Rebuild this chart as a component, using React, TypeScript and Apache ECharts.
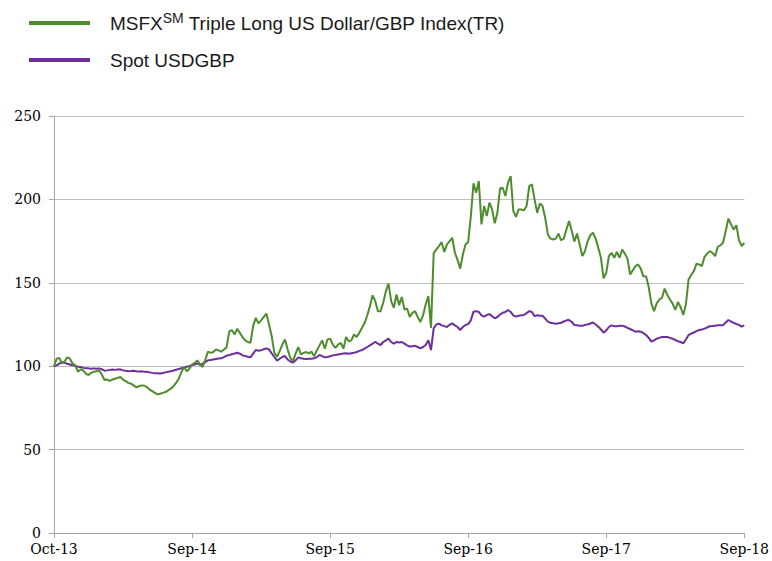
import React, { useEffect, useRef } from "react";
import * as echarts from "echarts";

const tickLabels = ["Oct-13", "Sep-14", "Sep-15", "Sep-16", "Sep-17", "Sep-18"];
const weeksPerTick = 52;

const seriesNames = ["MSFX Triple Long US Dollar/GBP Index(TR)", "Spot USDGBP"];

const tripleLong = [
  100, 104.5, 105, 101.7, 103, 105.3, 104.5, 101.5, 100.5, 96.7,
  98, 97.5, 95.5, 94.7, 96, 96.7, 97, 97.5, 95, 91.7,
  92, 91.2, 92, 92.5, 93, 93.5, 92, 91, 90, 89.5,
  88.5, 87.3, 88, 88.5, 88.3, 87.5, 86, 85, 84, 83.1,
  83.5, 84, 84.5, 85.5, 86.5, 88, 90, 92.5, 96.5, 99.5,
  97, 98.5, 101, 102, 103.5, 101, 99.5, 104, 108.7, 108,
  108.5, 110, 109.5, 108.7, 110, 111.3, 120.7, 121.7, 119, 122.5,
  120, 117.5, 115.5, 114.5, 114, 124, 129, 125.7, 127.5, 129.5,
  131.5, 125, 118, 108, 105.7, 109, 113, 116, 110, 105,
  103, 107.5, 111.5, 107, 108, 108.5, 107.7, 108.7, 106, 109.5,
  112.5, 115.5, 110.5, 116, 116.5, 113, 111, 113, 114, 110.5,
  117.5, 115, 115.5, 119, 117.5, 120, 123, 126, 130.5, 136,
  142.5, 139, 133, 133, 138, 145, 149.5, 139, 135, 143,
  136.5, 141.5, 134, 134.5, 129.5, 132, 133, 129.5, 126.5, 130.5,
  137, 142, 123, 167.7, 170, 172, 174.5, 168.5, 173, 175,
  177, 168, 163.7, 158.5, 167, 173, 174.5, 190, 209.7, 204,
  211, 185, 196, 190, 198, 194, 185.7, 192, 206.5, 207,
  202, 210, 214, 193, 189.5, 194, 194, 193.5, 196, 208,
  209, 200, 192, 197.5, 196, 189, 179, 176.5, 176, 176.5,
  179.5, 175.5, 176.5, 182, 187, 181, 174.7, 179.5, 173, 166,
  169, 175, 178.5, 180, 176.5, 171, 165, 152.7, 156, 166,
  168, 165, 168.5, 165, 170, 167.5, 164.5, 155, 157.5, 160,
  161, 158.5, 153.7, 154, 147.5, 137.5, 133, 137.7, 140, 141,
  146.5, 142.7, 140, 137.5, 133.7, 138.5, 135.5, 130.7, 137, 152,
  154.7, 157, 161.5, 161, 160, 165.5, 167.5, 169, 168, 166,
  171.5, 172.5, 174, 181, 188.5, 185, 182, 184.5, 175.5, 172,
  174,
];

const spotUsdGbp = [
  100, 100.5, 101.5, 102.5, 102, 101.5, 101, 100.5, 100.2, 99.7,
  99.5, 99, 98.8, 98.7, 98.5, 98.7, 98.5, 98.7, 98.2, 97.3,
  97.5, 97.8, 98, 97.8, 98.1, 98, 97.5, 97.3, 97, 97.1,
  97.3, 97, 96.8, 96.9, 96.7, 96.7, 96.3, 96, 95.8, 95.7,
  95.6, 95.9, 96.3, 96.7, 97, 97.4, 97.9, 98.3, 98.8, 99.3,
  99.7, 100, 100.7, 101, 101.7, 100.8, 101.5, 102.5, 103.5, 103.7,
  104, 104.3, 104.6, 104.7, 105.5, 106.3, 106.7, 107.2, 107.6, 108.1,
  107.5, 106.5, 106.1, 105.7, 105.3, 107.5, 109.7, 109.3, 109.5, 110.2,
  110.7, 110, 107.7, 105.5, 103.3, 104.5, 105.5, 106.1, 104, 102.8,
  102.1, 103.5, 105.3, 104.8, 104.5, 104.3, 104.4, 104.5, 104.7, 105.5,
  106.7, 106, 105.3, 105.5, 106, 106.5, 106.7, 107, 107.3, 107.6,
  107.7, 107.5, 107.8, 108, 108.5, 109.2, 109.7, 110.5, 111.5, 112.5,
  113.5, 114.7, 113.5, 112.7, 114.5, 115.5, 116.5, 114.5, 113.5, 114.5,
  114.2, 114.5, 113.5, 112.5, 111.8, 112, 112.2, 111.5, 110.7, 111.5,
  112.7, 115.5, 109.7, 122.7, 125, 125.5, 124.5, 124, 123.5, 124.8,
  125.7, 124.5, 123.5, 121.7, 123.5, 124.7, 125.2, 127.5, 132.7, 133,
  132.5, 130.5, 129.7, 130.7, 131.2, 130, 128.7, 129.5, 131, 132,
  132.5, 133.7, 132.5, 130.5, 129.7, 130.2, 130.5, 130.7, 131.8, 133,
  132.5, 130, 130.5, 130.3, 130.3, 128.5, 126.7, 126, 125.7, 125.5,
  125.7, 126, 126.8, 127.5, 127.7, 126.5, 124.7, 124.5, 124.3, 124.2,
  124.8, 125, 125.6, 126.2, 125, 123.7, 122, 120.1, 121.5, 123.5,
  124.5, 124, 124, 124.3, 124.3, 123.8, 123, 122.3, 121.5, 120.7,
  121, 120.7, 119.8, 118.7, 117, 114.7, 115.5, 116.5, 117, 117.5,
  117.5, 117.5, 117, 116.5, 115.7, 115, 114.5, 113.7, 116, 118.7,
  119.5, 120.2, 121, 121.7, 122, 122.5, 123.2, 124, 124.1, 124.3,
  124.5, 124.5, 124.6, 126.2, 127.7, 126.8, 126, 125.3, 124.8, 123.7,
  124.5,
];

const categories = tripleLong.map((_, i) =>
  i % weeksPerTick === 0 ? tickLabels[i / weeksPerTick] : String(i)
);

const GREEN = "#4e8d2b";
const PURPLE = "#6e2f9c";
const GRID_GRAY = "#bfbfbf";
const AXIS_GRAY = "#a6a6a6";
const SERIF = "DejaVu Serif, Liberation Serif, serif";
const SANS = "Liberation Sans, Arial, sans-serif";

export default function App() {
  const ref = useRef<HTMLDivElement>(null);

  useEffect(() => {
    if (!ref.current) return;
    const chart = echarts.init(ref.current, undefined, { renderer: "svg" });
    chart.setOption({
      animation: false,
      backgroundColor: "#ffffff",
      legend: {
        orient: "vertical",
        left: 24,
        top: 6,
        itemWidth: 61,
        itemHeight: 4,
        itemGap: 18,
        icon: "rect",
        data: seriesNames,
        formatter: (name: string) =>
          name === seriesNames[0]
            ? "{t|MSFX}{s|SM}{t| Triple Long US Dollar/GBP Index(TR)}"
            : "{t|" + name + "}",
        textStyle: {
          padding: [0, 0, 0, 15],
          rich: {
            t: {
              fontFamily: SANS,
              fontSize: 19,
              color: "#1a1a1a",
              lineHeight: 22,
            },
            s: {
              fontFamily: SANS,
              fontSize: 14,
              color: "#1a1a1a",
              verticalAlign: "top",
              padding: [0, 0, 10, 0],
            },
          },
        },
      },
      grid: { left: 54, right: 27, top: 116, bottom: 28, containLabel: false },
      xAxis: {
        type: "category",
        boundaryGap: false,
        data: categories,
        axisLine: { lineStyle: { color: AXIS_GRAY, width: 1 } },
        axisTick: {
          interval: weeksPerTick - 1,
          length: 5,
          lineStyle: { color: AXIS_GRAY },
        },
        axisLabel: {
          interval: weeksPerTick - 1,
          margin: 9,
          color: "#000",
          fontFamily: SERIF,
          fontSize: 14,
          showMaxLabel: true,
        },
        splitLine: { show: false },
      },
      yAxis: {
        type: "value",
        min: 0,
        max: 250,
        interval: 50,
        axisLine: { show: true, lineStyle: { color: AXIS_GRAY, width: 1 } },
        axisTick: { show: true, length: 5, lineStyle: { color: AXIS_GRAY } },
        axisLabel: {
          margin: 13,
          color: "#000",
          fontFamily: SERIF,
          fontSize: 14,
        },
        splitLine: { lineStyle: { color: GRID_GRAY, width: 1 } },
      },
      series: [
        {
          name: seriesNames[1],
          type: "line",
          data: spotUsdGbp,
          symbol: "none",
          lineStyle: { color: PURPLE, width: 2 },
          itemStyle: { color: PURPLE },
          z: 2,
        },
        {
          name: seriesNames[0],
          type: "line",
          data: tripleLong,
          symbol: "none",
          lineStyle: { color: GREEN, width: 2 },
          itemStyle: { color: GREEN },
          z: 3,
        },
      ],
    });
    return () => chart.dispose();
  }, []);

  return <div ref={ref} style={{ width: 772, height: 561, position: "absolute", left: 0, top: 0 }} />;
}
